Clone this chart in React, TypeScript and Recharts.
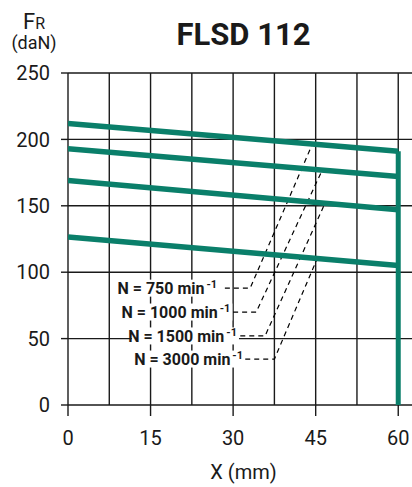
import { LineChart, Line, XAxis, YAxis, CartesianGrid, ReferenceLine, ReferenceDot } from 'recharts';

// travel X (mm) and radial load FR (daN)
const xTicks = [0, 15, 30, 45, 60];
const xGrid = [0, 7.5, 15, 22.5, 30, 37.5, 45, 52.5, 60];
const yTicks = [0, 50, 100, 150, 200, 250];

const speeds = ['750', '1000', '1500', '3000'];
const loadStartX = [0, 0, 0, 0];
const loadEndX = [60, 60, 60, 60];
const loadStart = [212, 193, 169, 126.5];
const loadEnd = [191, 172, 147, 105];

// dashed leaders from each label to its curve
const leaderStartX = [28.5, 30, 31.3, 32.2];
const leaderKneeX = [33.1, 34.2, 35.8, 37.5];
const leaderY = [88, 70, 52, 34.6];
const leaderEndX = [44.4, 46.2, 46.7, 45.3];
const leaderEndY = [196.5, 177, 152, 110.5];
const labelX = [27.1, 29.5, 30.7, 31.8];

const GREEN = '#0a7f6a';
const INK = '#1a1a1a';
const FONT = 'Roboto, "Noto Sans", sans-serif';

const curves = speeds.map((_, i) => [
  { x: loadStartX[i], y: loadStart[i] },
  { x: loadEndX[i], y: loadEnd[i] },
]);
const endStop = [
  { x: loadEndX[0], y: loadEnd[0] },
  { x: loadEndX[0], y: 0 },
];
const leaders = speeds.map((_, i) => [
  { x: leaderStartX[i], y: leaderY[i] },
  { x: leaderKneeX[i], y: leaderY[i] },
  { x: leaderEndX[i], y: leaderEndY[i] },
]);

function SpeedLabel({ cx, cy, speed }: { cx?: number; cy?: number; speed: string }) {
  if (cx == null || cy == null) return null;
  const main = `N = ${speed} min`;
  const w = main.length * 7.6 + 12;
  return (
    <g>
      <rect x={cx - w - 2} y={cy - 8.5} width={w + 4} height={17} fill="#fff" />
      <text x={cx} y={cy} dy="0.36em" textAnchor="end" fontFamily={FONT} fontWeight={700} fontSize={16} fill={INK}>
        {main}
        <tspan dx={2} dy={-6} fontSize={11}>-1</tspan>
      </text>
    </g>
  );
}

export default function App() {
  const tickStyle = { fontFamily: FONT, fontSize: 20, fill: INK };
  return (
    <div style={{ position: 'absolute', left: 0, top: 0, width: 412, height: 487, background: '#fff' }}>
      <LineChart width={412} height={487} margin={{ top: 73, right: 0, bottom: 0, left: 0 }}>
        <CartesianGrid vertical={false} stroke={INK} strokeWidth={1.4} />
        <XAxis
          type="number"
          dataKey="x"
          domain={[0, 62.5]}
          ticks={xTicks}
          allowDataOverflow
          axisLine={false}
          tickLine={{ stroke: INK, strokeWidth: 1.4 }}
          tickSize={11}
          tickMargin={15}
          height={82}
          tick={tickStyle}
        />
        <YAxis
          type="number"
          domain={[0, 250]}
          ticks={yTicks}
          allowDataOverflow
          axisLine={false}
          tickLine={{ stroke: INK, strokeWidth: 1.4 }}
          tickSize={7}
          tickMargin={11}
          width={68}
          tick={tickStyle}
        />
        {xGrid.map((v) => (
          <ReferenceLine key={v} x={v} stroke={INK} strokeWidth={1.4} />
        ))}
        {leaders.map((d, i) => (
          <Line
            key={`l${i}`}
            data={d}
            dataKey="y"
            type="linear"
            stroke="#000"
            strokeWidth={1.2}
            strokeDasharray="5 4"
            dot={false}
            isAnimationActive={false}
          />
        ))}
        {curves.map((d, i) => (
          <Line
            key={`c${i}`}
            data={d}
            dataKey="y"
            type="linear"
            stroke={GREEN}
            strokeWidth={5.5}
            dot={false}
            isAnimationActive={false}
          />
        ))}
        <Line data={endStop} dataKey="y" type="linear" stroke={GREEN} strokeWidth={5} dot={false} isAnimationActive={false} />
        {speeds.map((s, i) => (
          <ReferenceDot
            key={`t${s}`}
            x={labelX[i]}
            y={leaderY[i]}
            r={0}
            shape={(p: any) => <SpeedLabel cx={p.cx} cy={p.cy} speed={s} />}
          />
        ))}
      </LineChart>
      <svg width={412} height={487} style={{ position: 'absolute', left: 0, top: 0, pointerEvents: 'none' }}>
        <text x={243.5} y={45} textAnchor="middle" fontFamily={FONT} fontWeight={700} fontSize={31} fill={INK}>
          FLSD 112
        </text>
        <text x={23} y={28.5} fontFamily={FONT} fontSize={22} fill={INK}>
          F<tspan fontSize={16}>R</tspan>
        </text>
        <text x={34} y={49} textAnchor="middle" fontFamily={FONT} fontSize={18} fill={INK}>
          (daN)
        </text>
        <text x={243.5} y={479} textAnchor="middle" fontFamily={FONT} fontSize={20} fill={INK}>
          X (mm)
        </text>
      </svg>
    </div>
  );
}
